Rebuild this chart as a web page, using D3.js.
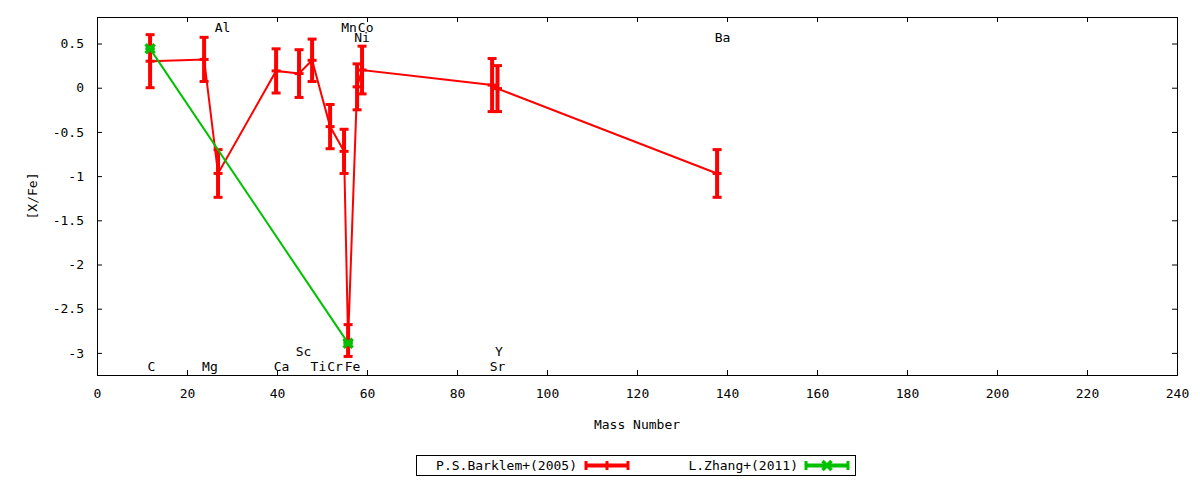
<!DOCTYPE html>
<html>
<head>
<meta charset="utf-8">
<script src="https://cdn.jsdelivr.net/npm/d3@7"></script>
<style>
  html, body { margin: 0; padding: 0; background: #fff; }
  svg { display: block; }
  text { font-family: "DejaVu Sans Mono", "Liberation Mono", monospace; font-size: 13px; fill: #000; }
</style>
</head>
<body>
<svg id="chart" width="1200" height="480"></svg>
<script>
// ---- data ----
const barklemElements = ["C","Mg","Al","Ca","Sc","Ti","Cr","Mn","Fe","Ni","Co","Sr","Y","Ba"];
const barklemX   = [11.8, 23.8, 26.9, 39.8, 44.9, 47.8, 51.8, 54.9, 55.8, 57.8, 58.9, 87.8, 89.0, 137.8];
const barklemY   = [0.30, 0.32, -0.97, 0.19, 0.16, 0.31, -0.44, -0.72, -2.86, 0.01, 0.20, 0.03, -0.01, -0.97];
const barklemErr = [0.30, 0.25, 0.27, 0.25, 0.27, 0.24, 0.25, 0.25, 0.18, 0.26, 0.27, 0.30, 0.26, 0.27];

const zhangElements = ["C","Fe"];
const zhangX   = [11.8, 55.8];
const zhangY   = [0.44, -2.89];
const zhangErr = [0.0, 0.0];

const labelNames = ["C","Mg","Al","Ca","Sc","Ti","Cr","Mn","Fe","Co","Ni","Sr","Y","Ba"];
const labelX     = [12.1, 25.1, 27.9, 41.0, 45.9, 49.2, 52.9, 56.0, 56.8, 59.7, 58.9, 89.0, 89.3, 139.0];
const labelY     = [-3.15, -3.15, 0.68, -3.15, -2.98, -3.15, -3.15, 0.68, -3.15, 0.68, 0.57, -3.15, -2.98, 0.57];

const xTicks = [0, 20, 40, 60, 80, 100, 120, 140, 160, 180, 200, 220, 240];
const yTicks = [0.5, 0, -0.5, -1, -1.5, -2, -2.5, -3];
const seriesNames = ["P.S.Barklem+(2005)", "L.Zhang+(2011)"];
const xTitle = "Mass Number";
const yTitle = "[X/Fe]";

// ---- layout ----
const L = 97, R = 1177, T = 17, B = 375;
const RED = "#ff0000", GREEN = "#00c000";

const svg = d3.select("#chart");
const x = d3.scaleLinear().domain([0, 240]).range([L, R]);
const y = d3.scaleLinear().domain([-3.25, 0.8]).range([B, T]);

// axes (ticks inward, mirrored)
const fmtY = d => d === 0 ? "0" : String(d).replace("-", "-");
const axB = d3.axisBottom(x).tickValues(xTicks).tickSizeInner(-5).tickSizeOuter(0).tickPadding(14).tickFormat(d3.format("d"));
const axT = d3.axisTop(x).tickValues(xTicks).tickSizeInner(-5).tickSizeOuter(0).tickFormat("");
const axL = d3.axisLeft(y).tickValues(yTicks).tickSizeInner(-5).tickSizeOuter(0).tickPadding(13).tickFormat(fmtY);
const axR = d3.axisRight(y).tickValues(yTicks).tickSizeInner(-5).tickSizeOuter(0).tickFormat("");

function styleAxis(g) {
  g.select(".domain").remove();
  g.selectAll(".tick line").attr("stroke", "#000").attr("stroke-width", 1);
  g.selectAll(".tick text").attr("font-family", "DejaVu Sans Mono").attr("font-size", 13).attr("fill", "#000");
}
svg.append("g").attr("transform", `translate(0,${B})`).call(axB).call(styleAxis);
svg.append("g").attr("transform", `translate(0,${T})`).call(axT).call(styleAxis);
svg.append("g").attr("transform", `translate(${L},0)`).call(axL).call(styleAxis);
svg.append("g").attr("transform", `translate(${R},0)`).call(axR).call(styleAxis);

svg.append("rect").attr("x", L + 0.5).attr("y", T + 0.5).attr("width", R - L).attr("height", B - T)
  .attr("fill", "none").attr("stroke", "#000").attr("stroke-width", 1);

// titles
svg.append("text").attr("x", (L + R) / 2).attr("y", 429).attr("text-anchor", "middle").text(xTitle);
svg.append("text").attr("transform", `translate(37,${(T + B) / 2}) rotate(-90)`).attr("text-anchor", "middle").text(yTitle);

// element labels
svg.append("g").selectAll("text").data(labelNames).join("text")
  .attr("x", (d, i) => x(labelX[i]))
  .attr("y", (d, i) => y(labelY[i]))
  .attr("dy", "0.35em")
  .attr("text-anchor", "middle")
  .text(d => d);

// series drawing
function drawSeries(xs, ys, es, color, marker) {
  const pts = xs.map((v, i) => ({ x: v, y: ys[i], e: es[i] }));
  const g = svg.append("g");
  g.append("path").datum(pts)
    .attr("d", d3.line().x(d => x(d.x)).y(d => y(d.y)))
    .attr("fill", "none").attr("stroke", color).attr("stroke-width", 2);
  const bar = g.selectAll("g.bar").data(pts).join("g").attr("class", "bar");
  bar.append("line")
    .attr("x1", d => x(d.x)).attr("x2", d => x(d.x))
    .attr("y1", d => y(d.y + d.e)).attr("y2", d => y(d.y - d.e))
    .attr("stroke", color).attr("stroke-width", 4);
  bar.append("line")
    .attr("x1", d => x(d.x) - 4.5).attr("x2", d => x(d.x) + 4.5)
    .attr("y1", d => y(d.y + d.e)).attr("y2", d => y(d.y + d.e))
    .attr("stroke", color).attr("stroke-width", 3);
  bar.append("line")
    .attr("x1", d => x(d.x) - 4.5).attr("x2", d => x(d.x) + 4.5)
    .attr("y1", d => y(d.y - d.e)).attr("y2", d => y(d.y - d.e))
    .attr("stroke", color).attr("stroke-width", 3);
  bar.each(function (d) { marker(d3.select(this), x(d.x), y(d.y), color); });
}
function plusMarker(sel, cx, cy, color) {
  sel.append("line").attr("x1", cx - 4.5).attr("x2", cx + 4.5).attr("y1", cy).attr("y2", cy)
    .attr("stroke", color).attr("stroke-width", 3);
  sel.append("line").attr("x1", cx).attr("x2", cx).attr("y1", cy - 4.5).attr("y2", cy + 4.5)
    .attr("stroke", color).attr("stroke-width", 3);
}
function crossMarker(sel, cx, cy, color) {
  const s = 4.5;
  sel.append("path").attr("d", `M${cx - s},${cy - s}L${cx + s},${cy + s}M${cx - s},${cy + s}L${cx + s},${cy - s}`)
    .attr("stroke", color).attr("stroke-width", 3.5).attr("fill", "none");
}

drawSeries(barklemX, barklemY, barklemErr, RED, plusMarker);
drawSeries(zhangX, zhangY, zhangErr, GREEN, crossMarker);

// legend
const lg = svg.append("g");
lg.append("rect").attr("x", 416.5).attr("y", 455.5).attr("width", 439).attr("height", 20)
  .attr("fill", "none").attr("stroke", "#000").attr("stroke-width", 1);
const legendItems = [
  { name: seriesNames[0], color: RED, textRight: 577, x0: 586, x1: 628, marker: plusMarker },
  { name: seriesNames[1], color: GREEN, textRight: 798, x0: 806, x1: 848, marker: crossMarker }
];
legendItems.forEach(it => {
  const cy = 465.5;
  lg.append("text").attr("x", it.textRight).attr("y", cy).attr("dy", "0.35em").attr("text-anchor", "end").text(it.name);
  lg.append("line").attr("x1", it.x0).attr("x2", it.x1).attr("y1", cy).attr("y2", cy)
    .attr("stroke", it.color).attr("stroke-width", 4);
  [it.x0, it.x1].forEach(cx => lg.append("line").attr("x1", cx).attr("x2", cx).attr("y1", cy - 4.5).attr("y2", cy + 4.5)
    .attr("stroke", it.color).attr("stroke-width", 3));
  it.marker(lg.append("g"), (it.x0 + it.x1) / 2, cy, it.color);
});
</script>
</body>
</html>
